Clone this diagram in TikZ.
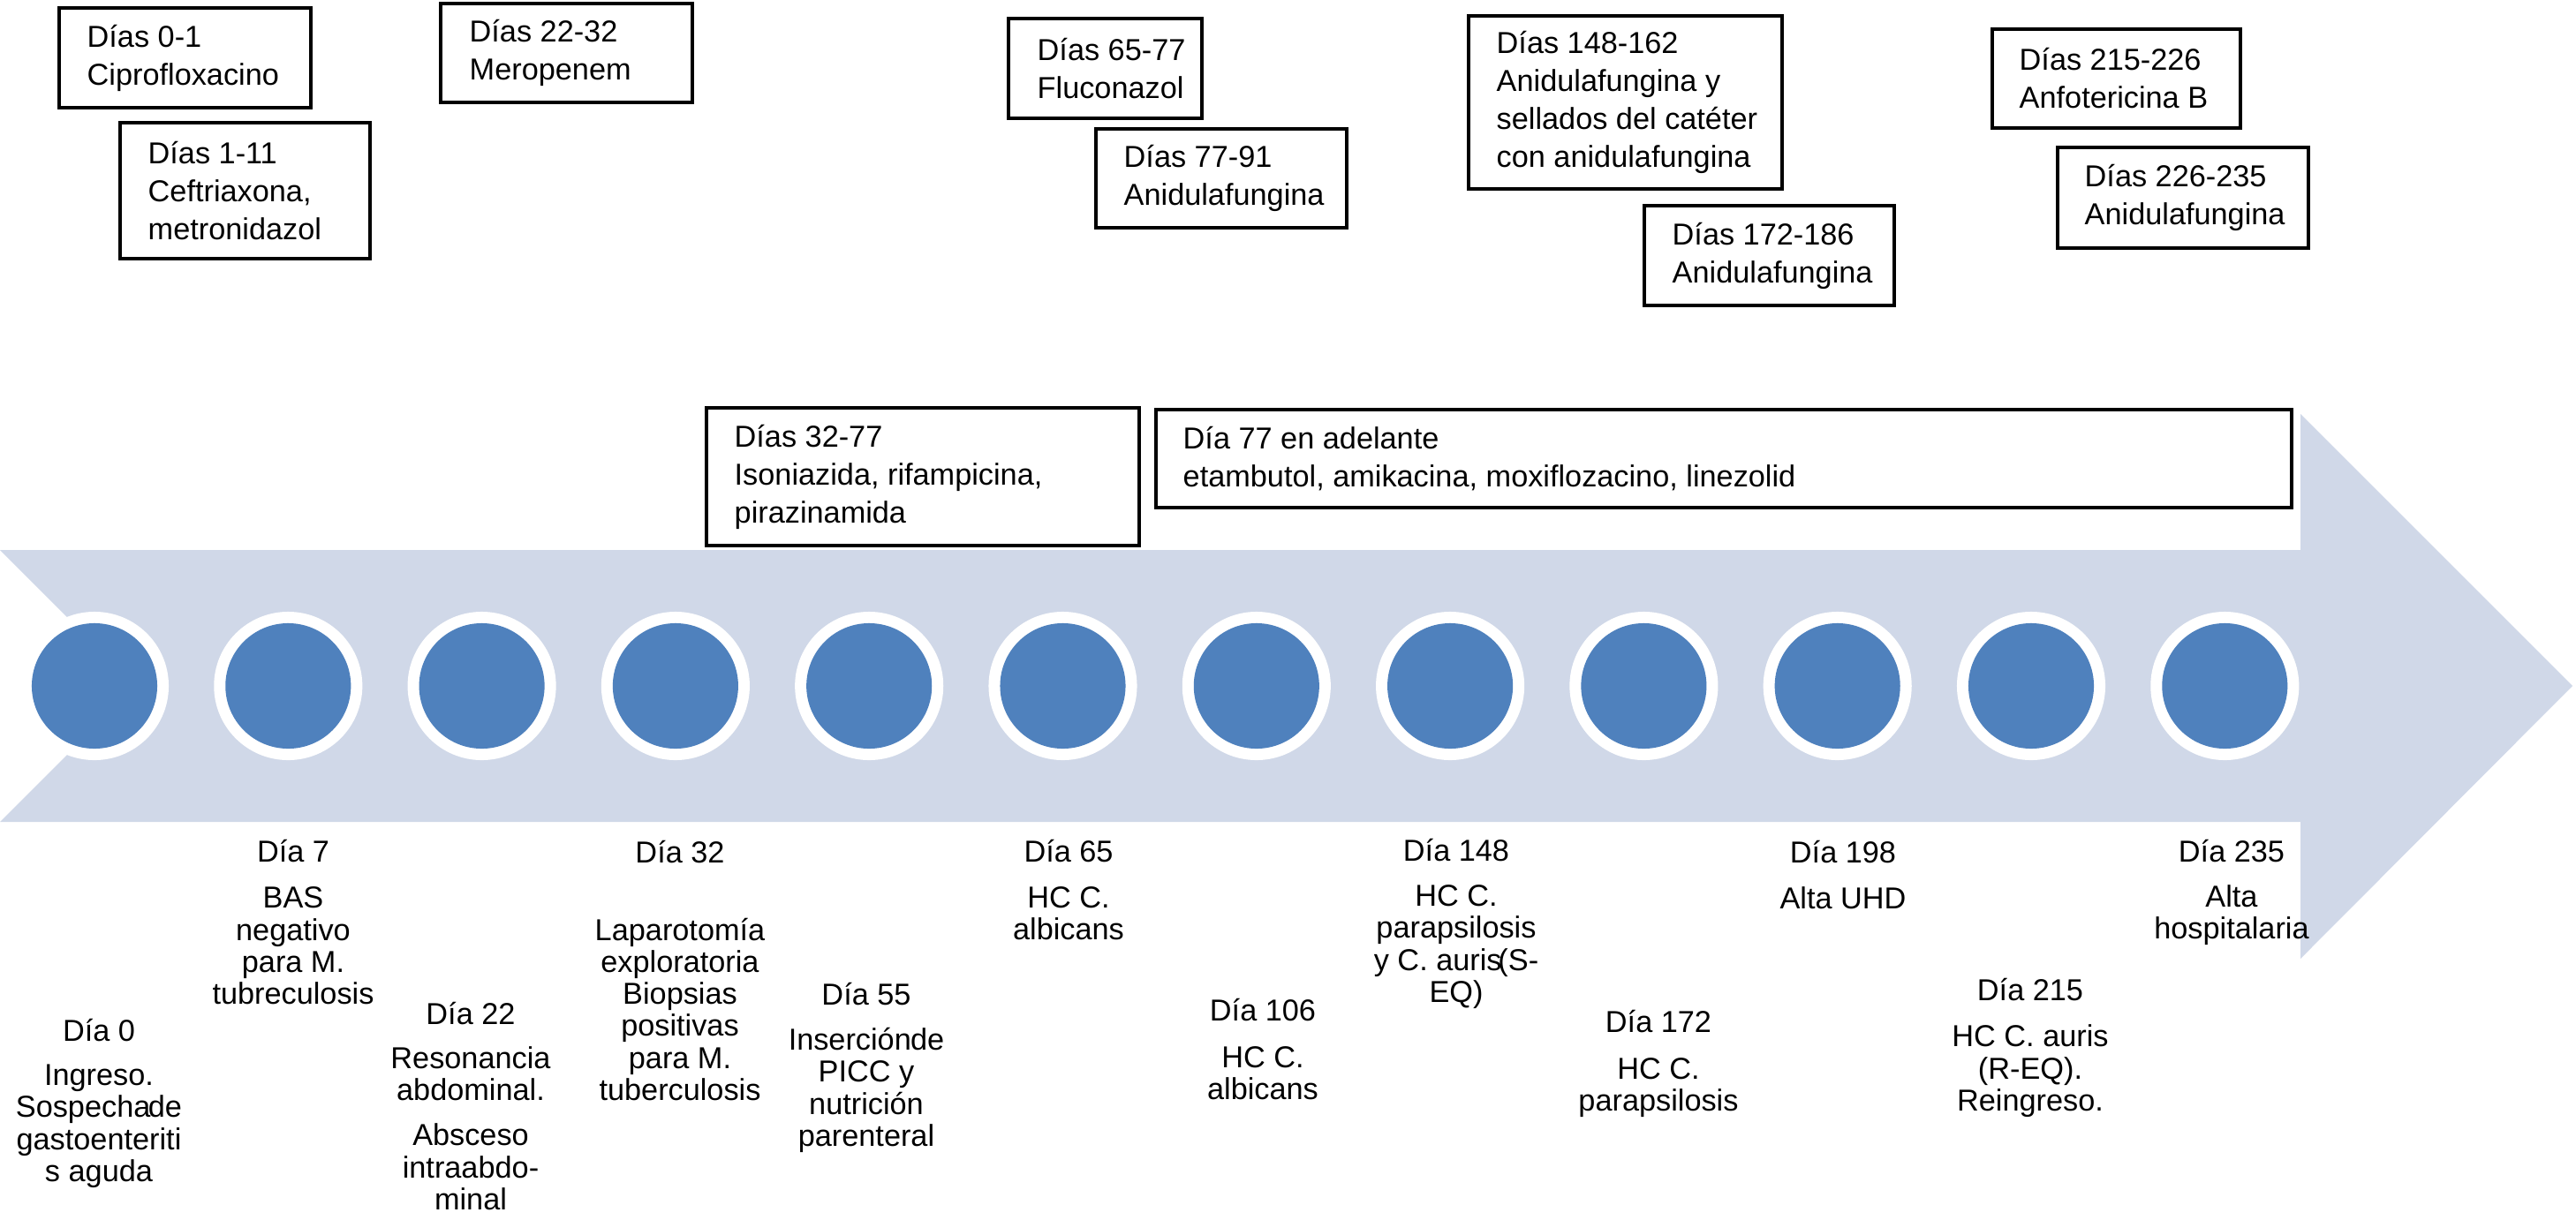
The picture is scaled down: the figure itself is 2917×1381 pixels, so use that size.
\documentclass[tikz,border=0pt]{standalone}
\usepackage{fontspec}
\setmainfont{Liberation Sans}
\definecolor{bandblue}{HTML}{D0D8E8}
\definecolor{dotblue}{HTML}{4F81BD}
\begin{document}
\begin{tikzpicture}[x=0.01cm,y=-0.01cm,
  boxline/.style={draw=black, line width=1.2pt, fill=white},
  boxtext/.style={anchor=west, inner sep=0pt, align=left, font=\fontsize{9.75pt}{12.23pt}\selectfont},
  daylabel/.style={anchor=base, inner sep=0pt, align=center, font=\fontsize{9.75pt}{10.24pt}\selectfont},
  ring/.style={circle, fill=white, minimum size=1.68cm, inner sep=0pt},
  dotnode/.style={circle, fill=dotblue, minimum size=1.42cm, inner sep=0pt}]
\fill[white] (0,0) rectangle (2917,1381);
\useasboundingbox (0,0) rectangle (2917,1381);

% timeline arrow
\fill[bandblue] (0,623) -- (2605,623) -- (2605,469) -- (2913,777) -- (2605,1086) -- (2605,931) -- (0,931) -- (154,777) -- cycle;

% circles
\foreach \i in {0,...,11} {
  \pgfmathsetmacro\cx{107+219.3*\i}
  \node[ring] (r\i) at (\cx,777) {};
  \node[dotnode] (d\i) at (\cx,777) {};
}

% treatment boxes
\draw[boxline] (67,9) rectangle (352,122);
\node[boxtext] (t1) at (98,65.5) {Días 0-1\\Ciprofloxacino};
\draw[boxline] (136,139) rectangle (419,293);
\node[boxtext] (t2) at (167,216) {Días 1-11\\Ceftriaxona,\\metronidazol};
\draw[boxline] (499,4) rectangle (784,116);
\node[boxtext] (t3) at (531,60) {Días 22-32\\Meropenem};
\draw[boxline] (1142,21) rectangle (1361,134);
\node[boxtext] (t4) at (1174,77.5) {Días 65-77\\Fluconazol};
\draw[boxline] (1241,146) rectangle (1525,258);
\node[boxtext] (t5) at (1272,202) {Días 77-91\\Anidulafungina};
\draw[boxline] (800,462) rectangle (1290,618);
\node[boxtext] (t6) at (831,540) {Días 32-77\\Isoniazida, rifampicina,\\pirazinamida};
\draw[boxline] (1309,464) rectangle (2595,575);
\node[boxtext] (t7) at (1339,519.5) {Día 77 en adelante\\etambutol, amikacina, moxiflozacino, linezolid};
\draw[boxline] (1663,18) rectangle (2018,214);
\node[boxtext] (t8) at (1694,116) {Días 148-162\\Anidulafungina y\\sellados del catéter\\con anidulafungina};
\draw[boxline] (1862,233) rectangle (2145,346);
\node[boxtext] (t9) at (1893,289.5) {Días 172-186\\Anidulafungina};
\draw[boxline] (2256,33) rectangle (2537,145);
\node[boxtext] (t10) at (2286,89) {Días 215-226\\Anfotericina B};
\draw[boxline] (2330,167) rectangle (2614,281);
\node[boxtext] (t11) at (2360,224) {Días 226-235\\Anidulafungina};

% day labels (anchored at the baseline of their last line)
\node[daylabel] (l1) at (112,1338) {Día 0\\[4pt] Ingreso.\\ Sospecha\hspace{-0.35em} de\\ gastoenteriti\\ s aguda};
\node[daylabel] (l2) at (332,1137) {Día 7\\[4.6pt] BAS\\ negativo\\ para M.\\ tubreculosis};
\node[daylabel] (l3) at (533,1370) {Día 22\\[4pt] Resonancia\\ abdominal.\\[4.3pt] Absceso\\ intraabdo-\\ minal};
\node[daylabel] (l4) at (770,1246) {Día 32\\[14.9pt] Laparotomía\\ exploratoria\\ Biopsias\\ positivas\\ para M.\\ tuberculosis};
\node[daylabel] (l5) at (981,1298) {Día 55\\[4.3pt] Inserción\hspace{-0.3em} de\\ PICC y\\ nutrición\\ parenteral};
\node[daylabel] (l6) at (1210,1064) {Día 65\\[4.3pt] HC C.\\ albicans};
\node[daylabel] (l7) at (1430,1245) {Día 106\\[4.6pt] HC C.\\ albicans};
\node[daylabel] (l8) at (1649,1135) {Día 148\\[4.3pt] HC C.\\ parapsilosis\\ y C. auris\hspace{-0.4em} (S-\\ EQ)};
\node[daylabel] (l9) at (1878,1258) {Día 172\\[4.8pt] HC C.\\ parapsilosis};
\node[daylabel] (l10) at (2087,1029) {Día 198\\[4.3pt] Alta UHD};
\node[daylabel] (l11) at (2299,1258) {Día 215\\[4.6pt] HC C. auris\\ (R-EQ).\\ Reingreso.};
\node[daylabel] (l12) at (2527,1063) {Día 235\\[4pt] Alta\\ hospitalaria};
\end{tikzpicture}
\end{document}
